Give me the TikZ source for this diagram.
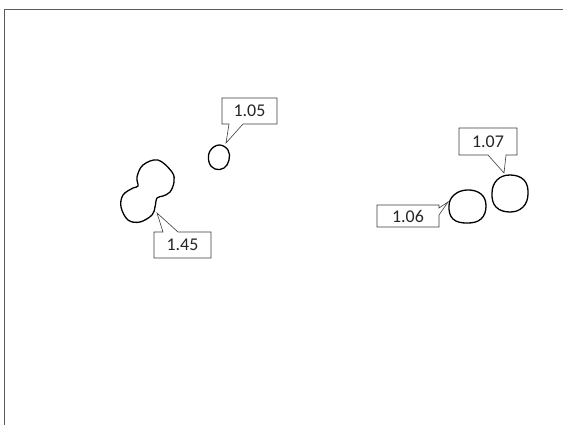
\documentclass[tikz,border=0pt]{standalone}
\usepackage{fontspec}
\setmainfont{Carlito}
\usepackage{tikz}
\definecolor{FrameGray}{RGB}{90,90,90}
\definecolor{BoxGray}{RGB}{60,60,60}
\tikzset{
  blob/.style={draw=black,line width=1.3pt,line join=round},
  callout/.style={draw=BoxGray,line width=0.6pt,fill=white},
  value/.style={font=\fontsize{18}{18}\selectfont,text=black!85}
}

\begin{document}
\begin{tikzpicture}[x=1bp,y=-1bp]
\useasboundingbox (0,0) rectangle (563,425);
% frame (top and left edges only)
\draw[FrameGray,line width=1pt] (4,425) -- (4,9) -- (563,9);
% particles
\draw[blob] plot[smooth cycle,tension=0.6] coordinates {(158,160) (172,172) (174,182) (170,192) (163,196) (157,198) (155,207) (152,215) (140,222) (128,220) (121,207) (123,195) (133,188) (138,186) (137,177) (143,165)};
\draw[blob] plot[smooth cycle,tension=0.7] coordinates {(219,145) (228,150) (229,160) (224,168) (215,169) (209,162) (210,151)};
\draw[blob] plot[smooth cycle,tension=0.7] coordinates {(467,190) (481,194) (486,206) (481,219) (467,223) (453,219) (449,206) (454,195)};
\draw[blob] plot[smooth cycle,tension=0.7] coordinates {(510,175) (524,180) (528,194) (523,207) (510,212) (496,207) (492,193) (497,180)};
% callouts
\draw[callout] (222,98) -- (277,98) -- (277,124) -- (243,124) -- (226,143) -- (229,124) -- (222,124) -- cycle;
\draw[callout] (154,232) -- (163,232) -- (157,213) -- (178,232) -- (211,232) -- (211,258) -- (154,258) -- cycle;
\draw[callout] (459,128) -- (517,128) -- (517,155) -- (506,155) -- (504,173) -- (488,155) -- (459,155) -- cycle;
\draw[callout] (377,205) -- (439,205) -- (439,208) -- (448,202) -- (439,215) -- (439,227) -- (377,227) -- cycle;
\node[value] (lab105) at (249.5,111) {1.05};
\node[value] (lab145) at (182.5,245) {1.45};
\node[value] (lab107) at (488,141.5) {1.07};
\node[value] (lab106) at (408,216.5) {1.06};
\end{tikzpicture}
\end{document}
